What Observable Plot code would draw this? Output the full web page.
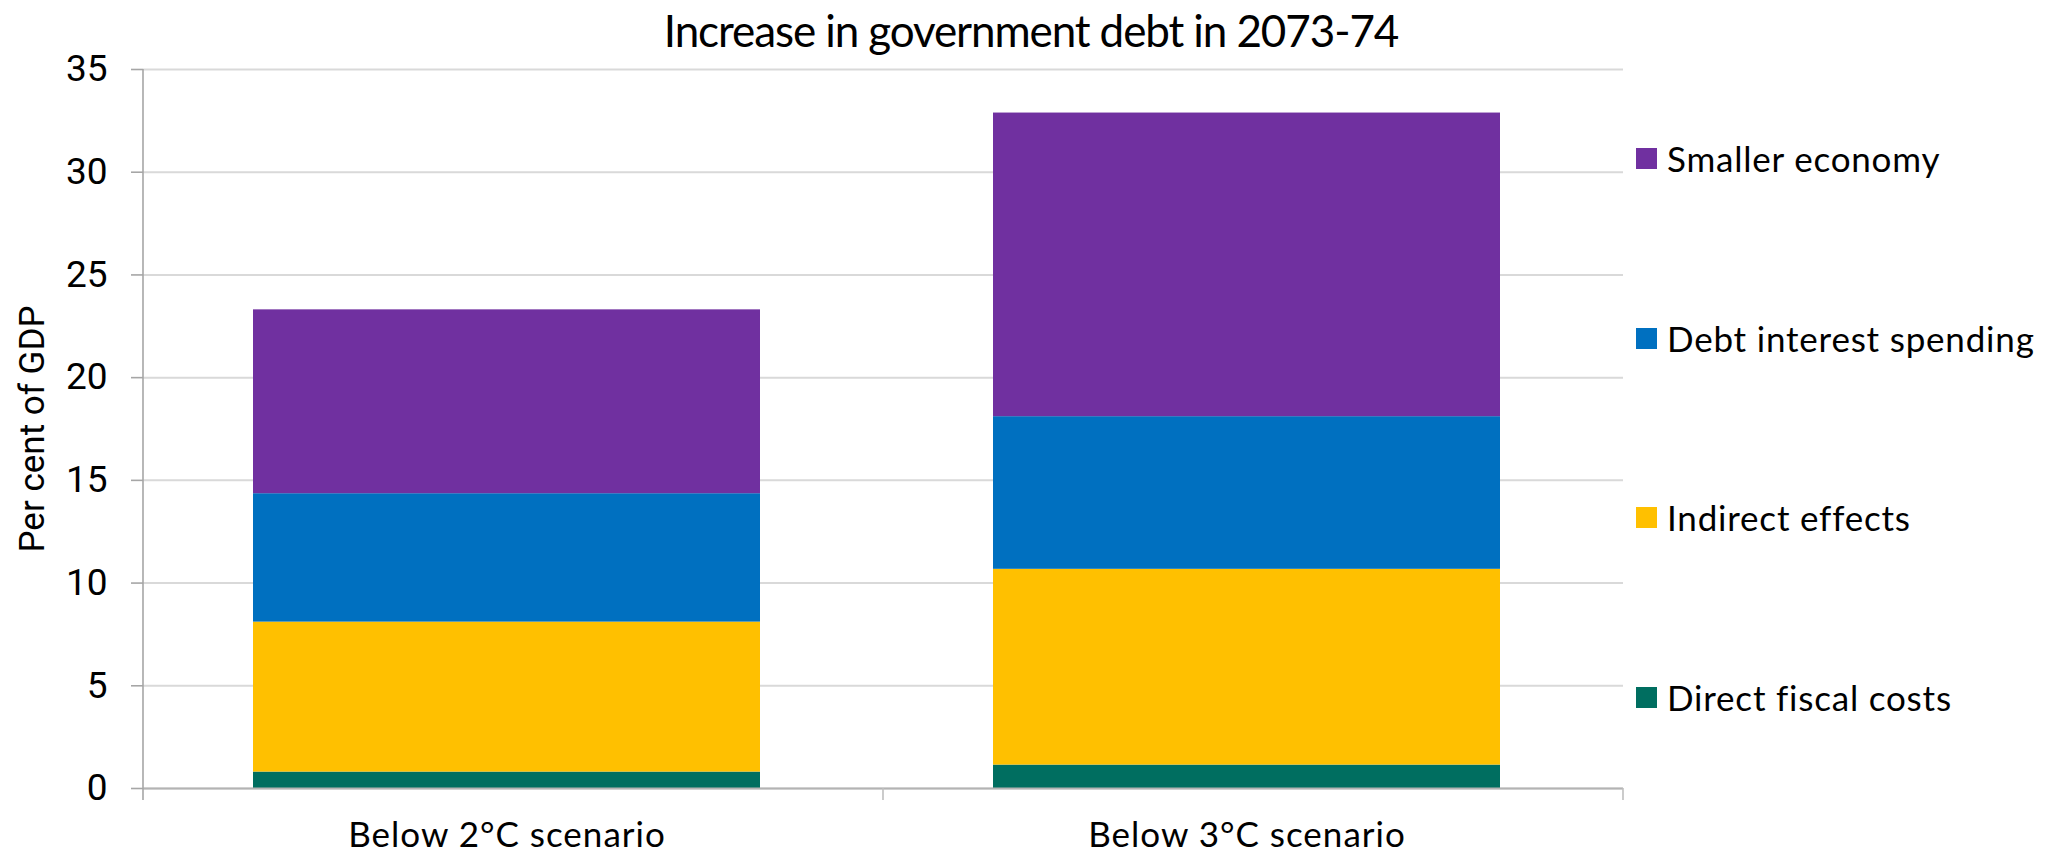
<!DOCTYPE html>
<html>
<head>
<meta charset="utf-8">
<script src="https://cdn.jsdelivr.net/npm/d3@7"></script>
<script src="https://cdn.jsdelivr.net/npm/@observablehq/plot@0.6"></script>
<style>
  html, body { margin: 0; padding: 0; background: #fff; }
  #wrap { position: relative; width: 2046px; height: 855px; font-family: Lato, "Open Sans", sans-serif; color: #000; }
  #title { position: absolute; top: 0; left: 0; width: 2046px; height: 60px; line-height: 60px; text-align: center; font-size: 44px; letter-spacing: -1.1px; padding-left: 16px; box-sizing: border-box; white-space: nowrap; }
  #chart { position: absolute; top: 0; left: 0; }
  .leg { position: absolute; left: 1636px; height: 42px; display: flex; align-items: center; font-size: 35px; letter-spacing: 0.8px; white-space: nowrap; }
  .leg .sw { width: 21px; height: 21px; margin-right: 10px; flex: none; }
</style>
</head>
<body>
<div id="wrap">
  <div id="chart"></div>
  <div id="title"></div>
</div>
<script>
const titleText = "Increase in government debt in 2073-74";
const yLabel = "Per cent of GDP";
const categories = ["Below 2°C scenario", "Below 3°C scenario"];
const series = ["Direct fiscal costs", "Indirect effects", "Debt interest spending", "Smaller economy"];
const colors = ["#006E60", "#FFC000", "#0070C0", "#7030A0"];
const directFiscal = [0.8, 1.14];
const indirectEffects = [7.3, 9.53];
const debtInterest = [6.25, 7.43];
const smallerEconomy = [8.95, 14.78];
const yTicks = [0, 5, 10, 15, 20, 25, 30, 35];
const legendOrder = ["Smaller economy", "Debt interest spending", "Indirect effects", "Direct fiscal costs"];

const seriesValues = [directFiscal, indirectEffects, debtInterest, smallerEconomy];
const data = [];
series.forEach((s, i) => categories.forEach((c, j) => data.push({series: s, category: c, value: seriesValues[i][j]})));

document.getElementById("title").textContent = titleText;

// y-axis line and category separator ticks, placed from the plot's own scales
function axisDecor(index, scales, values, dims) {
  const g = d3.create("svg:g");
  const y = scales.y;
  const y0 = y(0), yTop = y(yTicks[yTicks.length - 1]);
  const left = dims.marginLeft, right = dims.width - dims.marginRight;
  const middle = (left + right) / 2;
  g.append("line").attr("x1", left).attr("x2", left).attr("y1", yTop).attr("y2", y0 + 12)
    .attr("stroke", "#a6a6a6").attr("stroke-width", 1.6);
  [middle, right].forEach(px => {
    g.append("line").attr("x1", px).attr("x2", px).attr("y1", y0).attr("y2", y0 + 12)
      .attr("stroke", "#bfbfbf").attr("stroke-width", 1.6);
  });
  return g.node();
}

const chart = Plot.plot({
  width: 2046,
  height: 855,
  marginTop: 69,
  marginBottom: 67,
  marginLeft: 143,
  marginRight: 423,
  style: { fontFamily: "Lato, 'Open Sans', sans-serif", color: "#000", background: "transparent", overflow: "visible" },
  x: { domain: categories, paddingInner: 0.315, paddingOuter: 0.1575, align: 0.47, label: null },
  y: { domain: [0, 35], label: null },
  color: { domain: series, range: colors },
  marks: [
    Plot.gridY(yTicks, { stroke: "#d9d9d9", strokeOpacity: 1, strokeWidth: 2 }),
    Plot.barY(data, { x: "category", y: "value", fill: "series" }),
    Plot.ruleY([0], { stroke: "#b3b3b3", strokeWidth: 2 }),
    Plot.axisY(yTicks, { tickSize: 12, tickPadding: 24, fontSize: 37, fontFamily: "Roboto, sans-serif", stroke: "#a6a6a6", strokeWidth: 1.6, label: null }),
    Plot.axisY({ ticks: [], tickSize: 0, label: yLabel, labelAnchor: "center", labelArrow: "none", labelOffset: 124, fontSize: 35, fontFamily: "Roboto, sans-serif" }),
    Plot.axisX({ tickSize: 0, tickPadding: 34, fontSize: 35, label: null }),
    axisDecor
  ]
});
document.getElementById("chart").appendChild(chart);
chart.querySelectorAll('[aria-label="x-axis tick label"] text').forEach(t => t.setAttribute("letter-spacing", "1"));

// legend
const legendY = [158, 338, 517, 697];
legendOrder.forEach((name, i) => {
  const d = document.createElement("div");
  d.className = "leg";
  d.style.top = (legendY[i] - 21) + "px";
  const sw = document.createElement("span");
  sw.className = "sw";
  sw.style.background = colors[series.indexOf(name)];
  const t = document.createElement("span");
  t.textContent = name;
  d.appendChild(sw); d.appendChild(t);
  document.getElementById("wrap").appendChild(d);
});
</script>
</body>
</html>
